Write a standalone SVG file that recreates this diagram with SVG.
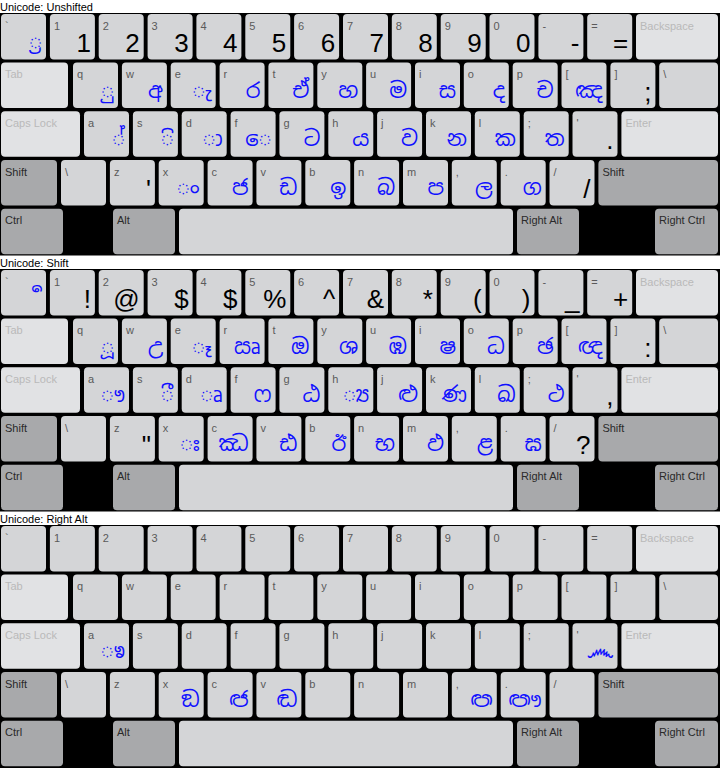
<svg xmlns="http://www.w3.org/2000/svg" width="720" height="768" viewBox="0 0 720 768">
<style>
.bg{fill:#000}
.t{font:11px "Liberation Sans",Arial,sans-serif;fill:#000}
.k{fill:#d4d5d7}
.kl{fill:#e1e2e4}
.km{fill:#a8a9ab}
.l{font:11px "Liberation Sans",Arial,sans-serif;fill:#5a5a5a}
.ll{font:11px "Liberation Sans",Arial,sans-serif;fill:#b9b9b9}
.lm{font:11px "Liberation Sans",Arial,sans-serif;fill:#2a2a2a}
.b{font:26px "Liberation Sans",Arial,sans-serif;fill:#000;text-anchor:end}
.s{font:21px "Noto Sans Sinhala","Iskoola Pota","Noto Sans",sans-serif;fill:#1010ff;text-anchor:end}
</style>
<rect width="720" height="768" fill="#fff"/>

<g id="kb-unshifted">
<text class="t" x="0" y="10.5">Unicode: Unshifted</text>
<rect class="bg" x="0" y="13" width="720" height="242.5"/>
<g id="u-grave" transform="translate(1,14)"><rect class="k" width="45" height="45.5" rx="4"/><text class="l" x="4" y="15.5">`</text><text class="s" x="41" y="35">්&#x200D;ර</text></g>
<g id="u-1" transform="translate(49.9,14)"><rect class="k" width="45" height="45.5" rx="4"/><text class="l" x="4" y="15.5">1</text><text class="b" x="41" y="38">1</text></g>
<g id="u-2" transform="translate(98.7,14)"><rect class="k" width="45" height="45.5" rx="4"/><text class="l" x="4" y="15.5">2</text><text class="b" x="41" y="38">2</text></g>
<g id="u-3" transform="translate(147.6,14)"><rect class="k" width="45" height="45.5" rx="4"/><text class="l" x="4" y="15.5">3</text><text class="b" x="41" y="38">3</text></g>
<g id="u-4" transform="translate(196.4,14)"><rect class="k" width="45" height="45.5" rx="4"/><text class="l" x="4" y="15.5">4</text><text class="b" x="41" y="38">4</text></g>
<g id="u-5" transform="translate(245.3,14)"><rect class="k" width="45" height="45.5" rx="4"/><text class="l" x="4" y="15.5">5</text><text class="b" x="41" y="38">5</text></g>
<g id="u-6" transform="translate(294.1,14)"><rect class="k" width="45" height="45.5" rx="4"/><text class="l" x="4" y="15.5">6</text><text class="b" x="41" y="38">6</text></g>
<g id="u-7" transform="translate(343,14)"><rect class="k" width="45" height="45.5" rx="4"/><text class="l" x="4" y="15.5">7</text><text class="b" x="41" y="38">7</text></g>
<g id="u-8" transform="translate(391.8,14)"><rect class="k" width="45" height="45.5" rx="4"/><text class="l" x="4" y="15.5">8</text><text class="b" x="41" y="38">8</text></g>
<g id="u-9" transform="translate(440.7,14)"><rect class="k" width="45" height="45.5" rx="4"/><text class="l" x="4" y="15.5">9</text><text class="b" x="41" y="38">9</text></g>
<g id="u-0" transform="translate(489.5,14)"><rect class="k" width="45" height="45.5" rx="4"/><text class="l" x="4" y="15.5">0</text><text class="b" x="41" y="38">0</text></g>
<g id="u-minus" transform="translate(538.4,14)"><rect class="k" width="45" height="45.5" rx="4"/><text class="l" x="4" y="15.5">-</text><text class="b" x="41" y="38">-</text></g>
<g id="u-equal" transform="translate(587.2,14)"><rect class="k" width="45" height="45.5" rx="4"/><text class="l" x="4" y="15.5">=</text><text class="b" x="41" y="38">=</text></g>
<g id="u-backspace" transform="translate(636,14)"><rect class="kl" width="82" height="45.5" rx="4"/><text class="ll" x="4" y="15.5">Backspace</text></g>

<g id="u-tab" transform="translate(1,62.5)"><rect class="kl" width="67" height="45.5" rx="4"/><text class="ll" x="4" y="15.5">Tab</text></g>
<g id="u-q" transform="translate(73,62.5)"><rect class="k" width="45" height="45.5" rx="4"/><text class="l" x="4" y="15.5">q</text><text class="s" x="41" y="35">ු</text></g>
<g id="u-w" transform="translate(121.9,62.5)"><rect class="k" width="45" height="45.5" rx="4"/><text class="l" x="4" y="15.5">w</text><text class="s" x="41" y="35">අ</text></g>
<g id="u-e" transform="translate(170.7,62.5)"><rect class="k" width="45" height="45.5" rx="4"/><text class="l" x="4" y="15.5">e</text><text class="s" x="41" y="35">ැ</text></g>
<g id="u-r" transform="translate(219.6,62.5)"><rect class="k" width="45" height="45.5" rx="4"/><text class="l" x="4" y="15.5">r</text><text class="s" x="41" y="35">ර</text></g>
<g id="u-t" transform="translate(268.4,62.5)"><rect class="k" width="45" height="45.5" rx="4"/><text class="l" x="4" y="15.5">t</text><text class="s" x="41" y="35">ඒ</text></g>
<g id="u-y" transform="translate(317.3,62.5)"><rect class="k" width="45" height="45.5" rx="4"/><text class="l" x="4" y="15.5">y</text><text class="s" x="41" y="35">හ</text></g>
<g id="u-u" transform="translate(366.1,62.5)"><rect class="k" width="45" height="45.5" rx="4"/><text class="l" x="4" y="15.5">u</text><text class="s" x="41" y="35">ම</text></g>
<g id="u-i" transform="translate(415,62.5)"><rect class="k" width="45" height="45.5" rx="4"/><text class="l" x="4" y="15.5">i</text><text class="s" x="41" y="35">ස</text></g>
<g id="u-o" transform="translate(463.8,62.5)"><rect class="k" width="45" height="45.5" rx="4"/><text class="l" x="4" y="15.5">o</text><text class="s" x="41" y="35">ද</text></g>
<g id="u-p" transform="translate(512.7,62.5)"><rect class="k" width="45" height="45.5" rx="4"/><text class="l" x="4" y="15.5">p</text><text class="s" x="41" y="35">ච</text></g>
<g id="u-lbracket" transform="translate(561.5,62.5)"><rect class="k" width="45" height="45.5" rx="4"/><text class="l" x="4" y="15.5">[</text><text class="s" x="41" y="35">ඤ</text></g>
<g id="u-rbracket" transform="translate(610.4,62.5)"><rect class="k" width="45" height="45.5" rx="4"/><text class="l" x="4" y="15.5">]</text><text class="b" x="41" y="38">;</text></g>
<g id="u-backslash" transform="translate(659.2,62.5)"><rect class="k" width="58.8" height="45.5" rx="4"/><text class="l" x="4" y="15.5">\</text></g>

<g id="u-caps" transform="translate(1,111.2)"><rect class="kl" width="79" height="45.5" rx="4"/><text class="ll" x="4" y="15.5">Caps Lock</text></g>
<g id="u-a" transform="translate(84,111.2)"><rect class="k" width="45" height="45.5" rx="4"/><text class="l" x="4" y="15.5">a</text><text class="s" x="41" y="35">්</text></g>
<g id="u-s" transform="translate(132.9,111.2)"><rect class="k" width="45" height="45.5" rx="4"/><text class="l" x="4" y="15.5">s</text><text class="s" x="41" y="35">ි</text></g>
<g id="u-d" transform="translate(181.7,111.2)"><rect class="k" width="45" height="45.5" rx="4"/><text class="l" x="4" y="15.5">d</text><text class="s" x="41" y="35">ා</text></g>
<g id="u-f" transform="translate(230.6,111.2)"><rect class="k" width="45" height="45.5" rx="4"/><text class="l" x="4" y="15.5">f</text><text class="s" x="41" y="35">ෙ</text></g>
<g id="u-g" transform="translate(279.4,111.2)"><rect class="k" width="45" height="45.5" rx="4"/><text class="l" x="4" y="15.5">g</text><text class="s" x="41" y="35">ට</text></g>
<g id="u-h" transform="translate(328.3,111.2)"><rect class="k" width="45" height="45.5" rx="4"/><text class="l" x="4" y="15.5">h</text><text class="s" x="41" y="35">ය</text></g>
<g id="u-j" transform="translate(377.1,111.2)"><rect class="k" width="45" height="45.5" rx="4"/><text class="l" x="4" y="15.5">j</text><text class="s" x="41" y="35">ව</text></g>
<g id="u-k" transform="translate(426,111.2)"><rect class="k" width="45" height="45.5" rx="4"/><text class="l" x="4" y="15.5">k</text><text class="s" x="41" y="35">න</text></g>
<g id="u-l" transform="translate(474.8,111.2)"><rect class="k" width="45" height="45.5" rx="4"/><text class="l" x="4" y="15.5">l</text><text class="s" x="41" y="35">ක</text></g>
<g id="u-semicolon" transform="translate(523.7,111.2)"><rect class="k" width="45" height="45.5" rx="4"/><text class="l" x="4" y="15.5">;</text><text class="s" x="41" y="35">ත</text></g>
<g id="u-quote" transform="translate(572.5,111.2)"><rect class="k" width="45" height="45.5" rx="4"/><text class="l" x="4" y="15.5">'</text><text class="b" x="41" y="38">.</text></g>
<g id="u-enter" transform="translate(621.4,111.2)"><rect class="kl" width="96.6" height="45.5" rx="4"/><text class="ll" x="4" y="15.5">Enter</text></g>

<g id="u-lshift" transform="translate(1,160)"><rect class="km" width="56" height="45.5" rx="4"/><text class="lm" x="4" y="15.5">Shift</text></g>
<g id="u-oem102" transform="translate(61,160)"><rect class="k" width="45" height="45.5" rx="4"/><text class="l" x="4" y="15.5">\</text></g>
<g id="u-z" transform="translate(109.9,160)"><rect class="k" width="45" height="45.5" rx="4"/><text class="l" x="4" y="15.5">z</text><text class="b" x="41" y="38">'</text></g>
<g id="u-x" transform="translate(158.7,160)"><rect class="k" width="45" height="45.5" rx="4"/><text class="l" x="4" y="15.5">x</text><text class="s" x="41" y="35">ං</text></g>
<g id="u-c" transform="translate(207.6,160)"><rect class="k" width="45" height="45.5" rx="4"/><text class="l" x="4" y="15.5">c</text><text class="s" x="41" y="35">ජ</text></g>
<g id="u-v" transform="translate(256.4,160)"><rect class="k" width="45" height="45.5" rx="4"/><text class="l" x="4" y="15.5">v</text><text class="s" x="41" y="35">ඩ</text></g>
<g id="u-b" transform="translate(305.3,160)"><rect class="k" width="45" height="45.5" rx="4"/><text class="l" x="4" y="15.5">b</text><text class="s" x="41" y="35">ඉ</text></g>
<g id="u-n" transform="translate(354.1,160)"><rect class="k" width="45" height="45.5" rx="4"/><text class="l" x="4" y="15.5">n</text><text class="s" x="41" y="35">බ</text></g>
<g id="u-m" transform="translate(403,160)"><rect class="k" width="45" height="45.5" rx="4"/><text class="l" x="4" y="15.5">m</text><text class="s" x="41" y="35">ප</text></g>
<g id="u-comma" transform="translate(451.8,160)"><rect class="k" width="45" height="45.5" rx="4"/><text class="l" x="4" y="15.5">,</text><text class="s" x="41" y="35">ල</text></g>
<g id="u-period" transform="translate(500.7,160)"><rect class="k" width="45" height="45.5" rx="4"/><text class="l" x="4" y="15.5">.</text><text class="s" x="41" y="35">ග</text></g>
<g id="u-slash" transform="translate(549.5,160)"><rect class="k" width="45" height="45.5" rx="4"/><text class="l" x="4" y="15.5">/</text><text class="b" x="41" y="38">/</text></g>
<g id="u-rshift" transform="translate(598.4,160)"><rect class="km" width="119.6" height="45.5" rx="4"/><text class="lm" x="4" y="15.5">Shift</text></g>

<g id="u-ctrl" transform="translate(1,208.8)"><rect class="km" width="62" height="45.5" rx="4"/><text class="lm" x="4" y="15.5">Ctrl</text></g>
<g id="u-alt" transform="translate(113,208.8)"><rect class="km" width="62" height="45.5" rx="4"/><text class="lm" x="4" y="15.5">Alt</text></g>
<g id="u-space" transform="translate(179,208.8)"><rect class="k" width="334" height="45.5" rx="4"/></g>
<g id="u-ralt" transform="translate(517,208.8)"><rect class="km" width="62" height="45.5" rx="4"/><text class="lm" x="4" y="15.5">Right Alt</text></g>
<g id="u-rctrl" transform="translate(655,208.8)"><rect class="km" width="63" height="45.5" rx="4"/><text class="lm" x="4" y="15.5">Right Ctrl</text></g>
</g>

<g id="kb-shift" transform="translate(0,256)">
<text class="t" x="0" y="10.5">Unicode: Shift</text>
<rect class="bg" x="0" y="13" width="720" height="242.5"/>
<g id="s-grave" transform="translate(1,14)"><rect class="k" width="45" height="45.5" rx="4"/><text class="l" x="4" y="15.5">`</text><text class="s" x="41" y="34">ර්&#x200D;</text></g>
<g id="s-1" transform="translate(49.9,14)"><rect class="k" width="45" height="45.5" rx="4"/><text class="l" x="4" y="15.5">1</text><text class="b" x="41" y="38">!</text></g>
<g id="s-2" transform="translate(98.7,14)"><rect class="k" width="45" height="45.5" rx="4"/><text class="l" x="4" y="15.5">2</text><text class="b" x="41" y="38">@</text></g>
<g id="s-3" transform="translate(147.6,14)"><rect class="k" width="45" height="45.5" rx="4"/><text class="l" x="4" y="15.5">3</text><text class="b" x="41" y="38">$</text></g>
<g id="s-4" transform="translate(196.4,14)"><rect class="k" width="45" height="45.5" rx="4"/><text class="l" x="4" y="15.5">4</text><text class="b" x="41" y="38">$</text></g>
<g id="s-5" transform="translate(245.3,14)"><rect class="k" width="45" height="45.5" rx="4"/><text class="l" x="4" y="15.5">5</text><text class="b" x="41" y="38">%</text></g>
<g id="s-6" transform="translate(294.1,14)"><rect class="k" width="45" height="45.5" rx="4"/><text class="l" x="4" y="15.5">6</text><text class="b" x="41" y="38">^</text></g>
<g id="s-7" transform="translate(343,14)"><rect class="k" width="45" height="45.5" rx="4"/><text class="l" x="4" y="15.5">7</text><text class="b" x="41" y="38">&amp;</text></g>
<g id="s-8" transform="translate(391.8,14)"><rect class="k" width="45" height="45.5" rx="4"/><text class="l" x="4" y="15.5">8</text><text class="b" x="41" y="38">*</text></g>
<g id="s-9" transform="translate(440.7,14)"><rect class="k" width="45" height="45.5" rx="4"/><text class="l" x="4" y="15.5">9</text><text class="b" x="41" y="38">(</text></g>
<g id="s-0" transform="translate(489.5,14)"><rect class="k" width="45" height="45.5" rx="4"/><text class="l" x="4" y="15.5">0</text><text class="b" x="41" y="38">)</text></g>
<g id="s-minus" transform="translate(538.4,14)"><rect class="k" width="45" height="45.5" rx="4"/><text class="l" x="4" y="15.5">-</text><text class="b" x="41" y="38">_</text></g>
<g id="s-equal" transform="translate(587.2,14)"><rect class="k" width="45" height="45.5" rx="4"/><text class="l" x="4" y="15.5">=</text><text class="b" x="41" y="38">+</text></g>
<g id="s-backspace" transform="translate(636,14)"><rect class="kl" width="82" height="45.5" rx="4"/><text class="ll" x="4" y="15.5">Backspace</text></g>

<g id="s-tab" transform="translate(1,62.5)"><rect class="kl" width="67" height="45.5" rx="4"/><text class="ll" x="4" y="15.5">Tab</text></g>
<g id="s-q" transform="translate(73,62.5)"><rect class="k" width="45" height="45.5" rx="4"/><text class="l" x="4" y="15.5">q</text><text class="s" x="41" y="35">ූ</text></g>
<g id="s-w" transform="translate(121.9,62.5)"><rect class="k" width="45" height="45.5" rx="4"/><text class="l" x="4" y="15.5">w</text><text class="s" x="41" y="35">උ</text></g>
<g id="s-e" transform="translate(170.7,62.5)"><rect class="k" width="45" height="45.5" rx="4"/><text class="l" x="4" y="15.5">e</text><text class="s" x="41" y="35">ෑ</text></g>
<g id="s-r" transform="translate(219.6,62.5)"><rect class="k" width="45" height="45.5" rx="4"/><text class="l" x="4" y="15.5">r</text><text class="s" x="41" y="35">ඍ</text></g>
<g id="s-t" transform="translate(268.4,62.5)"><rect class="k" width="45" height="45.5" rx="4"/><text class="l" x="4" y="15.5">t</text><text class="s" x="41" y="35">ඔ</text></g>
<g id="s-y" transform="translate(317.3,62.5)"><rect class="k" width="45" height="45.5" rx="4"/><text class="l" x="4" y="15.5">y</text><text class="s" x="41" y="35">ශ</text></g>
<g id="s-u" transform="translate(366.1,62.5)"><rect class="k" width="45" height="45.5" rx="4"/><text class="l" x="4" y="15.5">u</text><text class="s" x="41" y="35">ඹ</text></g>
<g id="s-i" transform="translate(415,62.5)"><rect class="k" width="45" height="45.5" rx="4"/><text class="l" x="4" y="15.5">i</text><text class="s" x="41" y="35">ෂ</text></g>
<g id="s-o" transform="translate(463.8,62.5)"><rect class="k" width="45" height="45.5" rx="4"/><text class="l" x="4" y="15.5">o</text><text class="s" x="41" y="35">ධ</text></g>
<g id="s-p" transform="translate(512.7,62.5)"><rect class="k" width="45" height="45.5" rx="4"/><text class="l" x="4" y="15.5">p</text><text class="s" x="41" y="35">ඡ</text></g>
<g id="s-lbracket" transform="translate(561.5,62.5)"><rect class="k" width="45" height="45.5" rx="4"/><text class="l" x="4" y="15.5">[</text><text class="s" x="41" y="35">ඥ</text></g>
<g id="s-rbracket" transform="translate(610.4,62.5)"><rect class="k" width="45" height="45.5" rx="4"/><text class="l" x="4" y="15.5">]</text><text class="b" x="41" y="38">:</text></g>
<g id="s-backslash" transform="translate(659.2,62.5)"><rect class="k" width="58.8" height="45.5" rx="4"/><text class="l" x="4" y="15.5">\</text></g>

<g id="s-caps" transform="translate(1,111.2)"><rect class="kl" width="79" height="45.5" rx="4"/><text class="ll" x="4" y="15.5">Caps Lock</text></g>
<g id="s-a" transform="translate(84,111.2)"><rect class="k" width="45" height="45.5" rx="4"/><text class="l" x="4" y="15.5">a</text><text class="s" x="41" y="35">ෟ</text></g>
<g id="s-s" transform="translate(132.9,111.2)"><rect class="k" width="45" height="45.5" rx="4"/><text class="l" x="4" y="15.5">s</text><text class="s" x="41" y="35">ී</text></g>
<g id="s-d" transform="translate(181.7,111.2)"><rect class="k" width="45" height="45.5" rx="4"/><text class="l" x="4" y="15.5">d</text><text class="s" x="41" y="35">ෘ</text></g>
<g id="s-f" transform="translate(230.6,111.2)"><rect class="k" width="45" height="45.5" rx="4"/><text class="l" x="4" y="15.5">f</text><text class="s" x="41" y="35">ෆ</text></g>
<g id="s-g" transform="translate(279.4,111.2)"><rect class="k" width="45" height="45.5" rx="4"/><text class="l" x="4" y="15.5">g</text><text class="s" x="41" y="35">ඨ</text></g>
<g id="s-h" transform="translate(328.3,111.2)"><rect class="k" width="45" height="45.5" rx="4"/><text class="l" x="4" y="15.5">h</text><text class="s" x="41" y="35">්&#x200D;ය</text></g>
<g id="s-j" transform="translate(377.1,111.2)"><rect class="k" width="45" height="45.5" rx="4"/><text class="l" x="4" y="15.5">j</text><text class="s" x="41" y="35">ළු</text></g>
<g id="s-k" transform="translate(426,111.2)"><rect class="k" width="45" height="45.5" rx="4"/><text class="l" x="4" y="15.5">k</text><text class="s" x="41" y="35">ණ</text></g>
<g id="s-l" transform="translate(474.8,111.2)"><rect class="k" width="45" height="45.5" rx="4"/><text class="l" x="4" y="15.5">l</text><text class="s" x="41" y="35">ඛ</text></g>
<g id="s-semicolon" transform="translate(523.7,111.2)"><rect class="k" width="45" height="45.5" rx="4"/><text class="l" x="4" y="15.5">;</text><text class="s" x="41" y="35">ථ</text></g>
<g id="s-quote" transform="translate(572.5,111.2)"><rect class="k" width="45" height="45.5" rx="4"/><text class="l" x="4" y="15.5">'</text><text class="b" x="41" y="38">,</text></g>
<g id="s-enter" transform="translate(621.4,111.2)"><rect class="kl" width="96.6" height="45.5" rx="4"/><text class="ll" x="4" y="15.5">Enter</text></g>

<g id="s-lshift" transform="translate(1,160)"><rect class="km" width="56" height="45.5" rx="4"/><text class="lm" x="4" y="15.5">Shift</text></g>
<g id="s-oem102" transform="translate(61,160)"><rect class="k" width="45" height="45.5" rx="4"/><text class="l" x="4" y="15.5">\</text></g>
<g id="s-z" transform="translate(109.9,160)"><rect class="k" width="45" height="45.5" rx="4"/><text class="l" x="4" y="15.5">z</text><text class="b" x="41" y="38">"</text></g>
<g id="s-x" transform="translate(158.7,160)"><rect class="k" width="45" height="45.5" rx="4"/><text class="l" x="4" y="15.5">x</text><text class="s" x="41" y="35">ඃ</text></g>
<g id="s-c" transform="translate(207.6,160)"><rect class="k" width="45" height="45.5" rx="4"/><text class="l" x="4" y="15.5">c</text><text class="s" x="41" y="35">ඣ</text></g>
<g id="s-v" transform="translate(256.4,160)"><rect class="k" width="45" height="45.5" rx="4"/><text class="l" x="4" y="15.5">v</text><text class="s" x="41" y="35">ඪ</text></g>
<g id="s-b" transform="translate(305.3,160)"><rect class="k" width="45" height="45.5" rx="4"/><text class="l" x="4" y="15.5">b</text><text class="s" x="41" y="35">ඊ</text></g>
<g id="s-n" transform="translate(354.1,160)"><rect class="k" width="45" height="45.5" rx="4"/><text class="l" x="4" y="15.5">n</text><text class="s" x="41" y="35">භ</text></g>
<g id="s-m" transform="translate(403,160)"><rect class="k" width="45" height="45.5" rx="4"/><text class="l" x="4" y="15.5">m</text><text class="s" x="41" y="35">ඵ</text></g>
<g id="s-comma" transform="translate(451.8,160)"><rect class="k" width="45" height="45.5" rx="4"/><text class="l" x="4" y="15.5">,</text><text class="s" x="41" y="35">ළ</text></g>
<g id="s-period" transform="translate(500.7,160)"><rect class="k" width="45" height="45.5" rx="4"/><text class="l" x="4" y="15.5">.</text><text class="s" x="41" y="35">ඝ</text></g>
<g id="s-slash" transform="translate(549.5,160)"><rect class="k" width="45" height="45.5" rx="4"/><text class="l" x="4" y="15.5">/</text><text class="b" x="41" y="38">?</text></g>
<g id="s-rshift" transform="translate(598.4,160)"><rect class="km" width="119.6" height="45.5" rx="4"/><text class="lm" x="4" y="15.5">Shift</text></g>

<g id="s-ctrl" transform="translate(1,208.8)"><rect class="km" width="62" height="45.5" rx="4"/><text class="lm" x="4" y="15.5">Ctrl</text></g>
<g id="s-alt" transform="translate(113,208.8)"><rect class="km" width="62" height="45.5" rx="4"/><text class="lm" x="4" y="15.5">Alt</text></g>
<g id="s-space" transform="translate(179,208.8)"><rect class="k" width="334" height="45.5" rx="4"/></g>
<g id="s-ralt" transform="translate(517,208.8)"><rect class="km" width="62" height="45.5" rx="4"/><text class="lm" x="4" y="15.5">Right Alt</text></g>
<g id="s-rctrl" transform="translate(655,208.8)"><rect class="km" width="63" height="45.5" rx="4"/><text class="lm" x="4" y="15.5">Right Ctrl</text></g>
</g>

<g id="kb-rightalt" transform="translate(0,512)">
<text class="t" x="0" y="10.5">Unicode: Right Alt</text>
<rect class="bg" x="0" y="13" width="720" height="243"/>
<g id="a-grave" transform="translate(1,14)"><rect class="k" width="45" height="45.5" rx="4"/><text class="l" x="4" y="15.5">`</text></g>
<g id="a-1" transform="translate(49.9,14)"><rect class="k" width="45" height="45.5" rx="4"/><text class="l" x="4" y="15.5">1</text></g>
<g id="a-2" transform="translate(98.7,14)"><rect class="k" width="45" height="45.5" rx="4"/><text class="l" x="4" y="15.5">2</text></g>
<g id="a-3" transform="translate(147.6,14)"><rect class="k" width="45" height="45.5" rx="4"/><text class="l" x="4" y="15.5">3</text></g>
<g id="a-4" transform="translate(196.4,14)"><rect class="k" width="45" height="45.5" rx="4"/><text class="l" x="4" y="15.5">4</text></g>
<g id="a-5" transform="translate(245.3,14)"><rect class="k" width="45" height="45.5" rx="4"/><text class="l" x="4" y="15.5">5</text></g>
<g id="a-6" transform="translate(294.1,14)"><rect class="k" width="45" height="45.5" rx="4"/><text class="l" x="4" y="15.5">6</text></g>
<g id="a-7" transform="translate(343,14)"><rect class="k" width="45" height="45.5" rx="4"/><text class="l" x="4" y="15.5">7</text></g>
<g id="a-8" transform="translate(391.8,14)"><rect class="k" width="45" height="45.5" rx="4"/><text class="l" x="4" y="15.5">8</text></g>
<g id="a-9" transform="translate(440.7,14)"><rect class="k" width="45" height="45.5" rx="4"/><text class="l" x="4" y="15.5">9</text></g>
<g id="a-0" transform="translate(489.5,14)"><rect class="k" width="45" height="45.5" rx="4"/><text class="l" x="4" y="15.5">0</text></g>
<g id="a-minus" transform="translate(538.4,14)"><rect class="k" width="45" height="45.5" rx="4"/><text class="l" x="4" y="15.5">-</text></g>
<g id="a-equal" transform="translate(587.2,14)"><rect class="k" width="45" height="45.5" rx="4"/><text class="l" x="4" y="15.5">=</text></g>
<g id="a-backspace" transform="translate(636,14)"><rect class="kl" width="82" height="45.5" rx="4"/><text class="ll" x="4" y="15.5">Backspace</text></g>

<g id="a-tab" transform="translate(1,62.5)"><rect class="kl" width="67" height="45.5" rx="4"/><text class="ll" x="4" y="15.5">Tab</text></g>
<g id="a-q" transform="translate(73,62.5)"><rect class="k" width="45" height="45.5" rx="4"/><text class="l" x="4" y="15.5">q</text></g>
<g id="a-w" transform="translate(121.9,62.5)"><rect class="k" width="45" height="45.5" rx="4"/><text class="l" x="4" y="15.5">w</text></g>
<g id="a-e" transform="translate(170.7,62.5)"><rect class="k" width="45" height="45.5" rx="4"/><text class="l" x="4" y="15.5">e</text></g>
<g id="a-r" transform="translate(219.6,62.5)"><rect class="k" width="45" height="45.5" rx="4"/><text class="l" x="4" y="15.5">r</text></g>
<g id="a-t" transform="translate(268.4,62.5)"><rect class="k" width="45" height="45.5" rx="4"/><text class="l" x="4" y="15.5">t</text></g>
<g id="a-y" transform="translate(317.3,62.5)"><rect class="k" width="45" height="45.5" rx="4"/><text class="l" x="4" y="15.5">y</text></g>
<g id="a-u" transform="translate(366.1,62.5)"><rect class="k" width="45" height="45.5" rx="4"/><text class="l" x="4" y="15.5">u</text></g>
<g id="a-i" transform="translate(415,62.5)"><rect class="k" width="45" height="45.5" rx="4"/><text class="l" x="4" y="15.5">i</text></g>
<g id="a-o" transform="translate(463.8,62.5)"><rect class="k" width="45" height="45.5" rx="4"/><text class="l" x="4" y="15.5">o</text></g>
<g id="a-p" transform="translate(512.7,62.5)"><rect class="k" width="45" height="45.5" rx="4"/><text class="l" x="4" y="15.5">p</text></g>
<g id="a-lbracket" transform="translate(561.5,62.5)"><rect class="k" width="45" height="45.5" rx="4"/><text class="l" x="4" y="15.5">[</text></g>
<g id="a-rbracket" transform="translate(610.4,62.5)"><rect class="k" width="45" height="45.5" rx="4"/><text class="l" x="4" y="15.5">]</text></g>
<g id="a-backslash" transform="translate(659.2,62.5)"><rect class="k" width="58.8" height="45.5" rx="4"/><text class="l" x="4" y="15.5">\</text></g>

<g id="a-caps" transform="translate(1,111.2)"><rect class="kl" width="79" height="45.5" rx="4"/><text class="ll" x="4" y="15.5">Caps Lock</text></g>
<g id="a-a" transform="translate(84,111.2)"><rect class="k" width="45" height="45.5" rx="4"/><text class="l" x="4" y="15.5">a</text><text class="s" x="41" y="35">ෳ</text></g>
<g id="a-s" transform="translate(132.9,111.2)"><rect class="k" width="45" height="45.5" rx="4"/><text class="l" x="4" y="15.5">s</text></g>
<g id="a-d" transform="translate(181.7,111.2)"><rect class="k" width="45" height="45.5" rx="4"/><text class="l" x="4" y="15.5">d</text></g>
<g id="a-f" transform="translate(230.6,111.2)"><rect class="k" width="45" height="45.5" rx="4"/><text class="l" x="4" y="15.5">f</text></g>
<g id="a-g" transform="translate(279.4,111.2)"><rect class="k" width="45" height="45.5" rx="4"/><text class="l" x="4" y="15.5">g</text></g>
<g id="a-h" transform="translate(328.3,111.2)"><rect class="k" width="45" height="45.5" rx="4"/><text class="l" x="4" y="15.5">h</text></g>
<g id="a-j" transform="translate(377.1,111.2)"><rect class="k" width="45" height="45.5" rx="4"/><text class="l" x="4" y="15.5">j</text></g>
<g id="a-k" transform="translate(426,111.2)"><rect class="k" width="45" height="45.5" rx="4"/><text class="l" x="4" y="15.5">k</text></g>
<g id="a-l" transform="translate(474.8,111.2)"><rect class="k" width="45" height="45.5" rx="4"/><text class="l" x="4" y="15.5">l</text></g>
<g id="a-semicolon" transform="translate(523.7,111.2)"><rect class="k" width="45" height="45.5" rx="4"/><text class="l" x="4" y="15.5">;</text></g>
<g id="a-quote" transform="translate(572.5,111.2)"><rect class="k" width="45" height="45.5" rx="4"/><text class="l" x="4" y="15.5">'</text><text class="s" x="41" y="35">෴</text></g>
<g id="a-enter" transform="translate(621.4,111.2)"><rect class="kl" width="96.6" height="45.5" rx="4"/><text class="ll" x="4" y="15.5">Enter</text></g>

<g id="a-lshift" transform="translate(1,160)"><rect class="km" width="56" height="45.5" rx="4"/><text class="lm" x="4" y="15.5">Shift</text></g>
<g id="a-oem102" transform="translate(61,160)"><rect class="k" width="45" height="45.5" rx="4"/><text class="l" x="4" y="15.5">\</text></g>
<g id="a-z" transform="translate(109.9,160)"><rect class="k" width="45" height="45.5" rx="4"/><text class="l" x="4" y="15.5">z</text></g>
<g id="a-x" transform="translate(158.7,160)"><rect class="k" width="45" height="45.5" rx="4"/><text class="l" x="4" y="15.5">x</text><text class="s" x="41" y="35">ඞ</text></g>
<g id="a-c" transform="translate(207.6,160)"><rect class="k" width="45" height="45.5" rx="4"/><text class="l" x="4" y="15.5">c</text><text class="s" x="41" y="35">ඦ</text></g>
<g id="a-v" transform="translate(256.4,160)"><rect class="k" width="45" height="45.5" rx="4"/><text class="l" x="4" y="15.5">v</text><text class="s" x="41" y="35">ඬ</text></g>
<g id="a-b" transform="translate(305.3,160)"><rect class="k" width="45" height="45.5" rx="4"/><text class="l" x="4" y="15.5">b</text></g>
<g id="a-n" transform="translate(354.1,160)"><rect class="k" width="45" height="45.5" rx="4"/><text class="l" x="4" y="15.5">n</text></g>
<g id="a-m" transform="translate(403,160)"><rect class="k" width="45" height="45.5" rx="4"/><text class="l" x="4" y="15.5">m</text></g>
<g id="a-comma" transform="translate(451.8,160)"><rect class="k" width="45" height="45.5" rx="4"/><text class="l" x="4" y="15.5">,</text><text class="s" x="41" y="35">ඏ</text></g>
<g id="a-period" transform="translate(500.7,160)"><rect class="k" width="45" height="45.5" rx="4"/><text class="l" x="4" y="15.5">.</text><text class="s" x="41" y="35">ඐ</text></g>
<g id="a-slash" transform="translate(549.5,160)"><rect class="k" width="45" height="45.5" rx="4"/><text class="l" x="4" y="15.5">/</text></g>
<g id="a-rshift" transform="translate(598.4,160)"><rect class="km" width="119.6" height="45.5" rx="4"/><text class="lm" x="4" y="15.5">Shift</text></g>

<g id="a-ctrl" transform="translate(1,208.8)"><rect class="km" width="62" height="45.5" rx="4"/><text class="lm" x="4" y="15.5">Ctrl</text></g>
<g id="a-alt" transform="translate(113,208.8)"><rect class="km" width="62" height="45.5" rx="4"/><text class="lm" x="4" y="15.5">Alt</text></g>
<g id="a-space" transform="translate(179,208.8)"><rect class="k" width="334" height="45.5" rx="4"/></g>
<g id="a-ralt" transform="translate(517,208.8)"><rect class="km" width="62" height="45.5" rx="4"/><text class="lm" x="4" y="15.5">Right Alt</text></g>
<g id="a-rctrl" transform="translate(655,208.8)"><rect class="km" width="63" height="45.5" rx="4"/><text class="lm" x="4" y="15.5">Right Ctrl</text></g>
</g>
</svg>
